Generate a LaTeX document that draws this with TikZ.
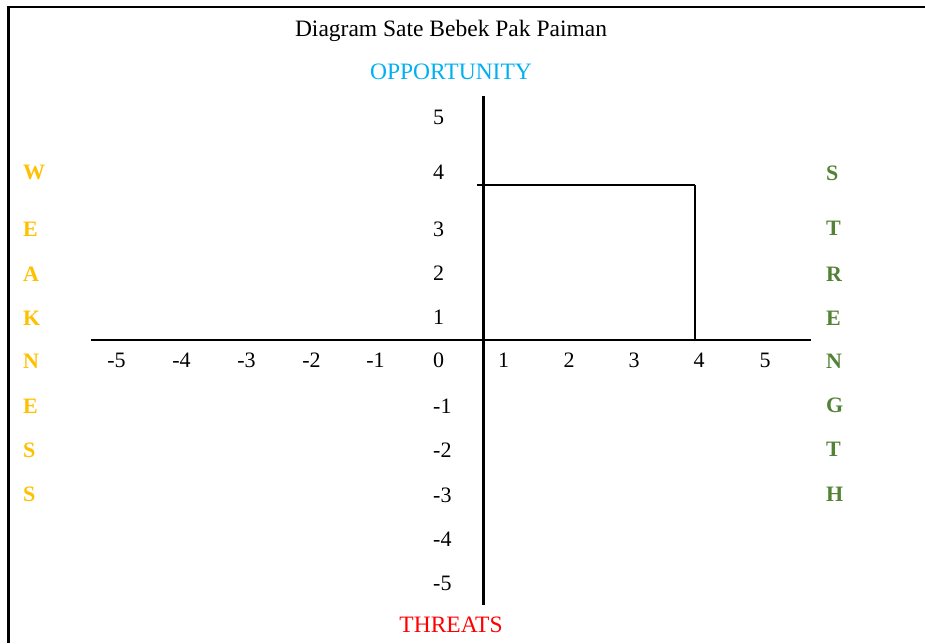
\documentclass[tikz,border=0pt]{standalone}
\usepackage{fontspec}
\setmainfont{Liberation Serif}
\definecolor{weakc}{HTML}{FFC000}
\definecolor{strc}{HTML}{538135}
\definecolor{oppc}{HTML}{00B0F0}
\definecolor{thrc}{HTML}{FF0000}
\begin{document}
\begin{tikzpicture}[x=1pt,y=-1pt,
  lbl/.style={inner sep=0pt,font=\fontsize{22}{26}\selectfont},
  ylbl/.style={lbl,anchor=west},
  weak/.style={lbl,anchor=west,text=weakc,font=\fontsize{22}{26}\selectfont\bfseries},
  strg/.style={lbl,anchor=west,text=strc,font=\fontsize{22}{26}\selectfont\bfseries},
  axis/.style={line width=2.2pt},
  box/.style={line width=1.6pt}]
\useasboundingbox (0,0) rectangle (925,643);
% frame
\coordinate (fl) at (8.5,643);
\coordinate (fc) at (8.5,7);
\coordinate (fr) at (925,7);
\draw[line width=2.5pt] (fl) -- (fc) -- (fr);
% title
\node[inner sep=0pt,anchor=base,font=\fontsize{23.5}{28}\selectfont] (title) at (451,36) {Diagram Sate Bebek Pak Paiman};
\node[inner sep=0pt,text=oppc,font=\fontsize{23.5}{28}\selectfont] (opp) at (451,71.5) {OPPORTUNITY};
\node[inner sep=0pt,text=thrc,font=\fontsize{23.5}{28}\selectfont] (thr) at (451,624.5) {THREATS};
% axes
\coordinate (vt) at (483.5,96);
\coordinate (vb) at (483.5,605);
\coordinate (hl) at (91,340);
\coordinate (hr) at (811,340);
\draw[axis] (vt) -- (vb);
\draw[axis] (hl) -- (hr);
% box
\coordinate (b1) at (477,185);
\coordinate (b2) at (695,185);
\coordinate (b3) at (695,340);
\draw[line width=2pt] (b1) -- (b2);
\draw[line width=1.3pt] (b2) -- (b3);
% y labels
\node[ylbl] (y5) at (433,117) {5};
\node[ylbl] (y4) at (433,172.5) {4};
\node[ylbl] (y3) at (433,229) {3};
\node[ylbl] (y2) at (433,273.5) {2};
\node[ylbl] (y1) at (433,317.5) {1};
\node[ylbl] (y0) at (433,360.5) {0};
\node[ylbl] (ym1) at (433,406) {-1};
\node[ylbl] (ym2) at (433,450.5) {-2};
\node[ylbl] (ym3) at (433,495) {-3};
\node[ylbl] (ym4) at (433,539) {-4};
\node[ylbl] (ym5) at (433,583) {-5};
% x labels
\node[lbl] (xm5) at (116.5,360.5) {-5};
\node[lbl] (xm4) at (181.5,360.5) {-4};
\node[lbl] (xm3) at (246.5,360.5) {-3};
\node[lbl] (xm2) at (311.5,360.5) {-2};
\node[lbl] (xm1) at (375.5,360.5) {-1};
\node[lbl] (x1) at (503.5,360.5) {1};
\node[lbl] (x2) at (569,360.5) {2};
\node[lbl] (x3) at (634,360.5) {3};
\node[lbl] (x4) at (699,360.5) {4};
\node[lbl] (x5) at (765,360.5) {5};
% WEAKNESS
\node[weak] (w1) at (23,172) {W};
\node[weak] (w2) at (23,229) {E};
\node[weak] (w3) at (23,274) {A};
\node[weak] (w4) at (23,318) {K};
\node[weak] (w5) at (23,361) {N};
\node[weak] (w6) at (23,406.5) {E};
\node[weak] (w7) at (23,450.5) {S};
\node[weak] (w8) at (23,494) {S};
% STRENGTH
\node[strg] (s1) at (826,173) {S};
\node[strg] (s2) at (826,228.5) {T};
\node[strg] (s3) at (826,274) {R};
\node[strg] (s4) at (826,318) {E};
\node[strg] (s5) at (826,361) {N};
\node[strg] (s6) at (826,405.5) {G};
\node[strg] (s7) at (826,449) {T};
\node[strg] (s8) at (826,494.5) {H};
\end{tikzpicture}
\end{document}
